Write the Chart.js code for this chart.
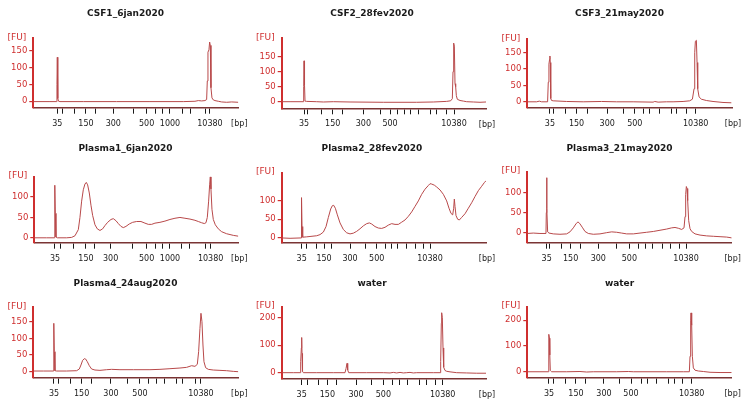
<!DOCTYPE html>
<html>
<head>
<meta charset="utf-8">
<script src="https://cdn.jsdelivr.net/npm/chart.js@4.4.1/dist/chart.umd.min.js"></script>
<style>
body { margin: 0; background: #fff; width: 750px; height: 410px; overflow: hidden; position: relative; font-family: "DejaVu Sans", sans-serif; }
.panel { position: absolute; }
.panel canvas { position: absolute; left: 0; top: 0; }
.title { position: absolute; top: 7px; width: 200px; text-align: center; font-weight: bold; font-size: 9px; line-height: 12px; color: #1a1a1a; }
</style>
</head>
<body>
<script>
// sample names
const titles = ["CSF1_6jan2020", "CSF2_28fev2020", "CSF3_21may2020",
                "Plasma1_6jan2020", "Plasma2_28fev2020", "Plasma3_21may2020",
                "Plasma4_24aug2020", "water", "water"];

// traces: [migration time, FU]
const csf1 = [[10.0,-1],[15,-1],[17.0,-1],[17.1,50],[17.2,130],[17.3,70],[17.4,8],[17.6,0],[18,-1],[25,-1],[35,-1],[45,-1],[55,-1],[58.5,0],[59.5,2],[60.5,1],[61.5,2],[62.0,5],[62.2,60],[62.4,145],[62.7,152],[62.9,175],[63.1,165],[63.3,40],[63.6,10],[64,4],[64.5,2],[65.5,0],[66.5,-2],[68,-3],[69.5,-2],[71.5,-3]];
const csf2 = [[9.5,0],[12,0],[16.0,0],[16.1,50],[16.2,136],[16.35,55],[16.5,2],[17,1],[20,0],[22,-1],[25,0],[30,-1],[40,-2],[50,-2],[55,-1],[57,0],[59,1],[60.2,3],[60.7,10],[60.9,100],[61.1,195],[61.3,185],[61.5,60],[61.7,50],[61.9,20],[62.2,8],[63,4],[64,2],[65,0],[67,-1],[69,-2],[70.8,-1]];
const csf3 = [[8.2,0],[11,0],[11.8,2],[12.5,0],[14.3,0],[14.5,60],[14.7,115],[14.9,130],[15.0,140],[15.1,120],[15.25,10],[15.5,4],[16,3],[20,1],[25,0],[30.5,1],[35,0],[40,0],[46,-1],[46.5,1],[47.5,-1],[50,0],[52,0],[55,1],[57,3],[57.8,8],[58.3,40],[58.5,150],[58.7,185],[59.0,188],[59.2,120],[59.4,40],[59.8,15],[60.5,8],[62,4],[64,1],[67,-2],[69.5,-3]];
const plasma1 = [[10.3,0],[14,0],[16.3,0],[16.4,40],[16.5,129],[16.6,60],[16.8,2],[17.2,0],[20,0],[21.5,1],[22.5,5],[23.5,20],[24.0,50],[24.5,90],[25.0,118],[25.5,132],[25.9,136],[26.3,130],[26.8,110],[27.3,80],[27.8,55],[28.5,32],[29.2,22],[30,18],[30.8,22],[31.5,30],[32.3,38],[33.3,45],[34.0,47],[34.8,42],[35.5,35],[36.3,28],[37.0,25],[37.8,28],[38.8,34],[39.8,38],[41.0,40],[42.3,40],[43.5,36],[44.5,33],[45.5,33],[46.5,36],[48,38],[49.5,41],[51,45],[52.5,48],[54.0,50],[55.5,48],[57,46],[58.5,43],[59.5,40],[60.5,37],[61.3,35],[61.8,37],[62.2,50],[62.6,90],[62.9,130],[63.1,150],[63.3,120],[63.6,70],[64,45],[64.6,32],[65.5,22],[66.5,15],[68,10],[70,6],[71.5,4]];
const plasma2 = [[9.5,-1],[12,-2],[15.3,-1],[15.4,40],[15.5,109],[15.6,30],[15.8,1],[17,2],[18,3],[20,5],[21,8],[22,15],[22.8,30],[23.5,55],[24.2,78],[24.7,87],[25.1,88],[25.6,80],[26.2,62],[27,40],[28,22],[29,13],[30,10],[31,12],[32,17],[33,24],[34,32],[35,38],[35.8,40],[36.5,37],[37.5,30],[38.5,26],[39.5,25],[40.5,28],[41.5,34],[42.5,38],[43.5,36],[44.5,36],[45.5,42],[46.5,48],[47.5,58],[48.5,70],[49.5,85],[50.5,100],[51.5,118],[52.5,132],[53.5,142],[54.0,147],[54.5,146],[55.3,143],[56,138],[57,130],[58,118],[59,100],[59.7,80],[60.3,66],[60.8,62],[61.1,80],[61.3,105],[61.5,85],[61.8,60],[62.3,50],[62.8,48],[63.5,55],[64.5,65],[65.5,80],[66.5,95],[67.5,112],[68.5,128],[69.5,140],[70.3,150],[70.8,155]];
const plasma3 = [[8.2,-2],[10,-1],[12,-2],[13.8,-2],[13.9,50],[14.0,137],[14.1,60],[14.3,2],[14.7,-1],[16,-3],[18,-4],[20,-3],[21,2],[22,12],[22.8,22],[23.4,27],[24,22],[24.8,12],[25.5,3],[26.5,-2],[28,-4],[30,-3],[32,0],[33.5,2],[35,1],[36.5,-1],[38,-3],[40,-3],[42,-1],[44,1],[46,3],[48,6],[50,9],[51.5,12],[52.5,13],[53.5,11],[54.5,8],[55.2,12],[55.5,40],[55.7,95],[55.9,115],[56.1,110],[56.3,80],[56.6,30],[57,10],[57.5,3],[58.5,-3],[60,-6],[62,-8],[64,-9],[66,-10],[68,-11],[69.5,-13]];
const plasma4 = [[10,2],[13,2],[16.0,2],[16.1,50],[16.2,145],[16.3,60],[16.5,3],[17,2],[20,2],[23,3],[23.8,8],[24.3,20],[24.8,34],[25.3,39],[25.7,38],[26.2,30],[26.8,18],[27.5,8],[28.5,5],[30,4],[32,6],[33.5,7],[36,6],[40,6],[45,6],[48,7],[51,9],[54,11],[56,13],[57.5,18],[58.5,16],[59.2,22],[59.6,60],[60.0,130],[60.3,175],[60.6,150],[60.9,80],[61.2,30],[61.7,12],[62.5,7],[64,5],[66,4],[68,3],[70,1],[71.5,0]];
const water1 = [[9.5,0],[13,0],[15.1,0],[15.2,40],[15.4,90],[15.5,128],[15.6,70],[15.7,60],[15.8,5],[16,0],[20,0],[25,0],[28.5,0],[28.8,15],[29.1,34],[29.3,10],[29.6,0],[35,0],[40,0],[42,-1],[43,1],[44,-1],[45,1],[46,-1],[47,0],[48,1],[49,-1],[50,0],[55,0],[57.0,0],[57.2,40],[57.4,180],[57.5,218],[57.7,200],[57.9,90],[58.1,20],[58.5,8],[59,5],[60,3],[62,0],[65,-1],[68,-2],[70.8,-2]];
const water2 = [[8.2,0],[12,0],[14.5,0],[14.6,60],[14.7,145],[14.85,130],[14.95,65],[15.1,5],[15.5,0],[20,0],[24,1],[26,-1],[28,0],[35,0],[38.5,1],[40,0],[45,0],[50,0],[55,0],[56.8,0],[57.0,60],[57.2,200],[57.3,228],[57.5,180],[57.7,60],[58,15],[58.5,6],[59.5,3],[61,1],[63,-2],[66,-3],[69.5,-3]];

// ladder tick positions (migration time) and their bp labels
const csf1Ticks = [17.2, 18.7, 22.5, 25.8, 28.8, 34.0, 40.0, 44.0, 46.8, 48.7, 51.0, 54.8, 57.2, 61.6, 63.0];
const csf2Ticks = [16.2, 17.2, 21.5, 24.8, 27.8, 34.0, 39.0, 42.0, 44.2, 46.2, 48.0, 50.5, 54.0, 56.0, 59.0, 61.2];
const csf3Ticks = [15.0, 16.0, 19.8, 23.0, 26.2, 32.2, 37.0, 40.5, 43.0, 45.0, 47.8, 51.5, 53.0, 56.0, 58.8];
const plasma1Ticks = [16.5, 18.2, 22.0, 25.8, 28.3, 33.2, 39.7, 44.0, 46.6, 48.8, 51.0, 54.5, 57.0, 61.8, 63.2];
const plasma2Ticks = [15.5, 16.8, 19.8, 22.2, 24.5, 30.0, 34.5, 38.0, 40.5, 42.5, 44.3, 47.0, 49.7, 52.0, 54.0];
const plasma3Ticks = [14.0, 14.8, 18.5, 21.2, 24.2, 29.5, 35.0, 38.8, 41.5, 43.7, 45.8, 48.8, 51.0, 53.8, 55.8];
const plasma4Ticks = [16.2, 17.5, 21.2, 24.5, 27.5, 33.3, 38.2, 42.0, 44.5, 47.0, 49.3, 53.0, 54.8, 58.8, 60.3];
const water1Ticks = [15.5, 17.2, 20.5, 23.2, 26.0, 31.8, 36.5, 40.0, 42.8, 44.7, 47.2, 50.8, 53.0, 55.5, 57.8];
const water2Ticks = [14.7, 16.2, 19.7, 22.8, 25.7, 31.2, 36.0, 39.3, 42.5, 44.3, 46.8, 50.5, 52.2, 54.8, 57.5];

const bpLong = ["35", "", "", "150", "", "300", "", "500", "", "", "1000", "", "", "", "10380"];
const bpShort = ["35", "", "", "150", "", "300", "", "500", "", "", "", "", "", "", "10380"];
const bpCsf2 = ["35", "", "", "150", "", "300", "", "500", "", "", "", "", "", "", "", "10380"];

const fu150 = [0, 50, 100, 150];
const fu100 = [0, 50, 100];
const fu200 = [0, 100, 200];

const RED = "#cf2f2f";
const TRACE = "#b8494a";

// one entry per panel: data, axes and where the plot box sits in the panel
const panels = [
  { trace: csf1, ticks: csf1Ticks, bp: bpLong, fu: fu150, x: [10.0, 71.5], y: [-19, 186], box: [33.3, 238.3, 38.3, 107.7] },
  { trace: csf2, ticks: csf2Ticks, bp: bpCsf2, fu: fu150, x: [9.5, 70.8], y: [-22, 211], box: [31.7, 236, 38.3, 108.3] },
  { trace: csf3, ticks: csf3Ticks, bp: bpShort, fu: fu150, x: [8.2, 69.7], y: [-18, 191], box: [27.3, 232, 39.3, 107.7] },
  { trace: plasma1, ticks: plasma1Ticks, bp: bpLong, fu: fu100, x: [10.3, 71.5], y: [-12, 150], box: [34.3, 238.3, 41.7, 107.7] },
  { trace: plasma2, ticks: plasma2Ticks, bp: bpShort, fu: fu100, x: [9.5, 70.8], y: [-14, 177], box: [31.7, 236, 37.7, 107.7] },
  { trace: plasma3, ticks: plasma3Ticks, bp: bpShort, fu: fu100, x: [8.2, 69.5], y: [-25, 152], box: [27.3, 231.7, 36.7, 107.7] },
  { trace: plasma4, ticks: plasma4Ticks, bp: bpShort, fu: fu150, x: [10.0, 71.5], y: [-18, 193], box: [33.3, 238.3, 37.3, 107.7] },
  { trace: water1, ticks: water1Ticks, bp: bpShort, fu: fu200, x: [9.5, 70.8], y: [-23, 240], box: [31.7, 236, 36.7, 109] },
  { trace: water2, ticks: water2Ticks, bp: bpShort, fu: fu200, x: [8.2, 69.5], y: [-23, 252], box: [27.3, 231.7, 36.7, 107.7] }
];
const titleCenter = [125.5, 122, 119.5];

const unitLabels = {
  id: "unitLabels",
  afterDraw(chart) {
    let ctx = chart.ctx;
    let a = chart.chartArea;
    ctx.save();
    ctx.font = '9px "DejaVu Sans"';
    ctx.textBaseline = "middle";
    ctx.fillStyle = RED;
    ctx.textAlign = "right";
    ctx.fillText("[FU]", a.left - 7, a.top - 1);
    ctx.fillStyle = "#1a1a1a";
    ctx.textAlign = "center";
    ctx.font = '8px "DejaVu Sans"';
    ctx.fillText("[bp]", a.right + 1, a.bottom + 16.3);
    ctx.restore();
  }
};

panels.forEach((p, i) => {
  let col = i % 3, row = Math.floor(i / 3);
  let w = 250, h = row === 2 ? 140 : 135;
  let [left, right, top, bottom] = p.box;

  let div = document.createElement("div");
  div.className = "panel";
  div.style.left = (col * 250) + "px";
  div.style.top = (row * 135) + "px";
  div.style.width = w + "px";
  div.style.height = h + "px";

  let canvas = document.createElement("canvas");
  canvas.width = w;
  canvas.height = h;
  div.appendChild(canvas);

  let t = document.createElement("div");
  t.className = "title";
  t.style.left = (titleCenter[col] - 100) + "px";
  t.textContent = titles[i];
  div.appendChild(t);
  document.body.appendChild(div);

  new Chart(canvas.getContext("2d"), {
    type: "line",
    data: {
      datasets: [{
        data: p.trace,
        borderColor: TRACE,
        borderWidth: 1,
        pointRadius: 0,
        tension: 0,
        fill: false
      }]
    },
    options: {
      responsive: false,
      animation: false,
      events: [],
      layout: { padding: { top: top, right: w - right, bottom: 0, left: 0 } },
      plugins: { legend: { display: false }, tooltip: { enabled: false }, title: { display: false } },
      scales: {
        x: {
          type: "linear",
          min: p.x[0],
          max: p.x[1],
          afterBuildTicks: s => { s.ticks = p.ticks.map(v => ({ value: v })); },
          afterFit: s => { s.height = h - bottom; },
          ticks: {
            autoSkip: false,
            maxRotation: 0,
            minRotation: 0,
            padding: 5,
            color: "#1a1a1a",
            font: { family: "DejaVu Sans", size: 8 },
            callback: (v, idx) => p.bp[idx] || ""
          },
          grid: { drawOnChartArea: false, tickLength: 6, color: "#1a1a1a", lineWidth: 1 },
          border: { color: "#7a3434", width: 1.5 }
        },
        y: {
          min: p.y[0],
          max: p.y[1],
          afterBuildTicks: s => { s.ticks = p.fu.map(v => ({ value: v })); },
          afterFit: s => { s.width = left; },
          ticks: { color: RED, padding: 2, font: { family: "DejaVu Sans", size: 8.5 } },
          grid: { drawOnChartArea: false, tickLength: 4, color: RED, lineWidth: 1.2 },
          border: { color: RED, width: 2 }
        }
      }
    },
    plugins: [unitLabels]
  });
});
</script>
</body>
</html>
